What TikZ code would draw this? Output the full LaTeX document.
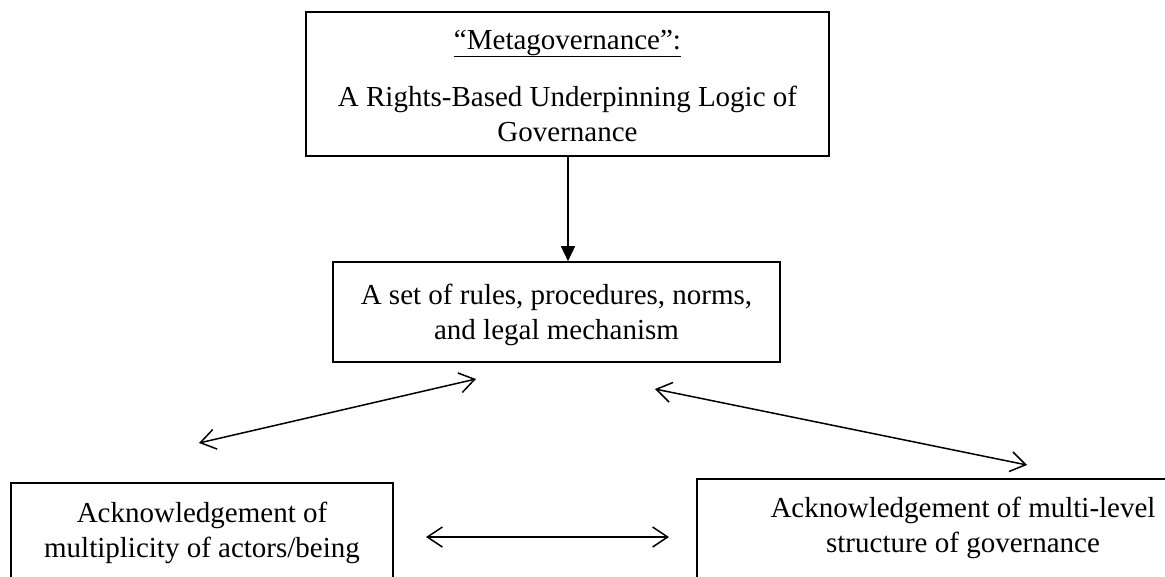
\documentclass[tikz,border=0pt]{standalone}
\usepackage{fontspec}
\setmainfont{Liberation Serif}
\usetikzlibrary{arrows.meta}
\begin{document}
\begin{tikzpicture}[x=1pt,y=-1pt,
  boxnode/.style={draw, line width=1.6pt, inner sep=0pt},
  txt/.style={inner sep=0pt, anchor=base, font=\fontsize{29}{35}\selectfont},
  conn/.style={line width=1.5pt},
  dbl/.style={conn, {Straight Barb[length=15pt,width=20pt,line width=1.5pt]}-{Straight Barb[length=15pt,width=20pt,line width=1.5pt]}}]
\useasboundingbox (0,0) rectangle (1165,576);
\clip (0,0) rectangle (1165,576);
% boxes
\node[boxnode, minimum width=523pt, minimum height=144pt] (top) at (567.5,84) {};
\node[boxnode, minimum width=447pt, minimum height=100pt] (mid) at (556.5,312) {};
\node[boxnode, minimum width=382pt, minimum height=117pt] (bl) at (202,541.5) {};
\node[boxnode, minimum width=478pt, minimum height=121pt] (br) at (936,539.5) {};
% texts
\node[txt] (ttitle) at (567.5,49) {\underline{“Metagovernance”:}};
\node[txt] (tbody) at (567.5,106) {\begin{tabular}[t]{@{}c@{}}A Rights-Based Underpinning Logic of\\Governance\end{tabular}};
\node[txt] (mtext) at (556.5,304) {\begin{tabular}[t]{@{}c@{}}A set of rules, procedures, norms,\\and legal mechanism\end{tabular}};
\node[txt] (bltext) at (202,522) {\begin{tabular}[t]{@{}c@{}}Acknowledgement of\\multiplicity of actors/being\end{tabular}};
\node[txt] (brtext) at (963,517) {\begin{tabular}[t]{@{}c@{}}Acknowledgement of multi-level\\structure of governance\end{tabular}};
% connectors
\coordinate (ax) at (568,0);
\draw[conn, -{Triangle[length=15pt,width=14pt]}] (top.south -| ax) -- (mid.north -| ax);
\coordinate (l1) at (476,379);
\coordinate (l2) at (199,443);
\coordinate (r1) at (655,389);
\coordinate (r2) at (1027,465);
\coordinate (h1) at (426,537);
\coordinate (h2) at (669,537);
\draw[dbl] (l2) -- (l1);
\draw[dbl] (r1) -- (r2);
\draw[dbl] (h1) -- (h2);
\end{tikzpicture}
\end{document}
